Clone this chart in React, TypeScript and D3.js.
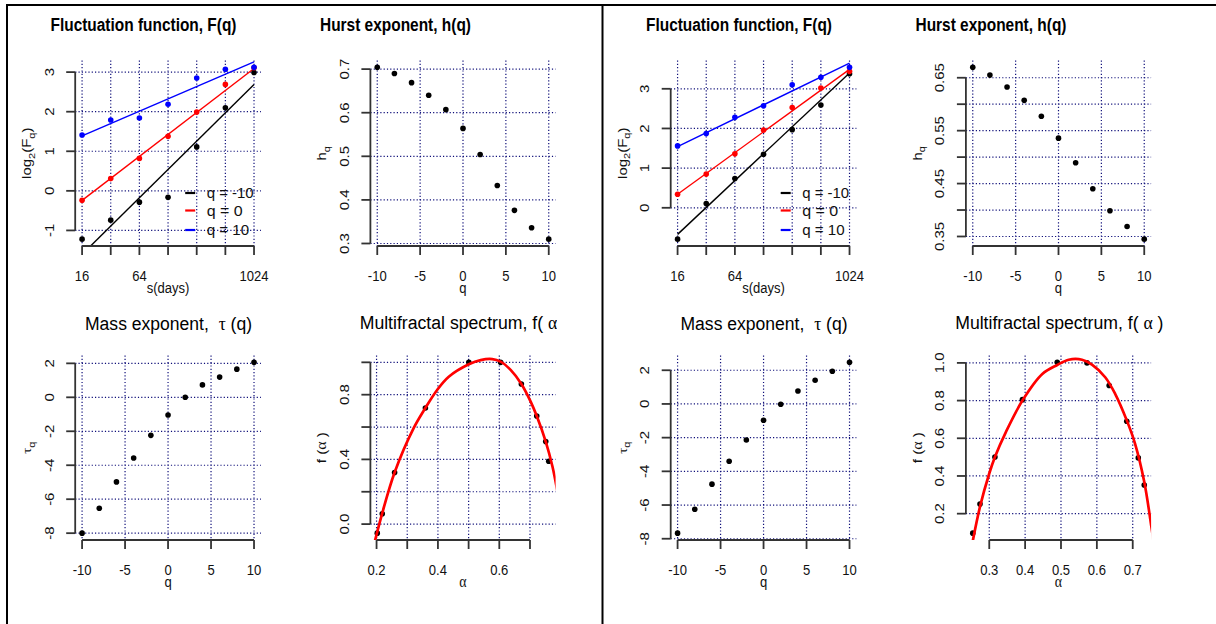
import React from "react";
import * as d3 from "d3";

const W = 1216;
const H = 624;
const FONT = "'Liberation Sans', Arial, Helvetica, sans-serif";
const GREEK = "'Liberation Serif', 'DejaVu Serif', serif";
const SX = 0.87;
const AXIS = "#333333";
const GRID = "#10107a";

// ---------------- data ----------------
const sizes = [16, 32, 64, 128, 256, 512, 1024];
const qs = [-10, -8, -6, -4, -2, 0, 2, 4, 6, 8, 10];
const legendLabels = ["q = -10", "q = 0", "q = 10"];
const seriesColors = ["#000000", "#ff0000", "#0000ff"];

// left figure
const leftLogFqm10 = [-1.22, -0.74, -0.285, -0.16, 1.11, 2.1, 2.99];
const leftLogFq0 = [-0.24, 0.31, 0.82, 1.38, 1.99, 2.69, 3.11];
const leftLogFq10 = [1.41, 1.79, 1.84, 2.19, 2.85, 3.07, 3.12];
const leftFitqm10 = [-1.606, 2.69];
const leftFitq0 = [-0.24, 3.09];
const leftFitq10 = [1.39, 3.26];
const leftHq = [0.704, 0.69, 0.669, 0.64, 0.607, 0.564, 0.504, 0.433, 0.376, 0.336, 0.31];
const leftTauq = [-8.0, -6.53, -4.98, -3.57, -2.24, -1.04, 0.0, 0.73, 1.19, 1.66, 2.06];
const leftAlpha = [0.2023, 0.2186, 0.2588, 0.3592, 0.5007, 0.6042, 0.6719, 0.722, 0.7513, 0.7611];
const leftFalpha = [-0.056, 0.064, 0.319, 0.718, 1.0, 1.0, 0.866, 0.668, 0.51, 0.389];
const leftCurveAlpha = [0.19, 0.2186, 0.2588, 0.3209, 0.3592, 0.3974, 0.4353, 0.5007, 0.5392, 0.5771, 0.6042, 0.6369, 0.6719, 0.7022, 0.722, 0.7513, 0.7732, 0.7895, 0.795];
const leftCurveF = [-0.14, 0.068, 0.319, 0.593, 0.718, 0.829, 0.911, 0.988, 1.014, 1.02, 1.004, 0.953, 0.866, 0.757, 0.668, 0.51, 0.356, 0.2, 0.14];

// right figure
const rightLogFqm10 = [-0.79, 0.11, 0.74, 1.35, 1.97, 2.59, 3.38];
const rightLogFq0 = [0.34, 0.85, 1.36, 1.96, 2.53, 3.02, 3.44];
const rightLogFq10 = [1.56, 1.87, 2.28, 2.57, 3.1, 3.29, 3.54];
const rightFitqm10 = [-0.67, 3.4];
const rightFitq0 = [0.34, 3.49];
const rightFitq10 = [1.54, 3.65];
const rightHq = [0.6696, 0.655, 0.6325, 0.6073, 0.5772, 0.5358, 0.4894, 0.4403, 0.3987, 0.369, 0.345];
const rightTauq = [-7.67, -6.25, -4.76, -3.4, -2.14, -0.97, -0.02, 0.77, 1.41, 1.94, 2.47];
const rightAlpha = [0.254, 0.2742, 0.3158, 0.3925, 0.4895, 0.5726, 0.6343, 0.6834, 0.7155, 0.7321];
const rightFalpha = [0.0965, 0.251, 0.501, 0.805, 1.003, 1.0, 0.88, 0.69, 0.496, 0.352];
const rightCurveAlpha = [0.25, 0.2742, 0.3, 0.3158, 0.3463, 0.3925, 0.4479, 0.4895, 0.5216, 0.5587, 0.5864, 0.6233, 0.651, 0.6834, 0.7064, 0.7321, 0.7526, 0.758];
const rightCurveF = [0.015, 0.237, 0.413, 0.501, 0.633, 0.8, 0.941, 0.989, 1.017, 1.017, 0.991, 0.924, 0.836, 0.695, 0.572, 0.369, 0.123, 0.05];

// ticks
const sTicks = [16, 32, 64, 128, 256, 512, 1024];
const sTickLabels = ["16", "", "64", "", "", "", "1024"];
const qTicks = [-10, -5, 0, 5, 10];
const qTickLabels = ["-10", "-5", "0", "5", "10"];
const leftFluctYTicks = [-1, 0, 1, 2, 3];
const leftFluctYLabels = ["-1", "0", "1", "2", "3"];
const rightFluctYTicks = [0, 1, 2, 3];
const rightFluctYLabels = ["0", "1", "2", "3"];
const leftHurstYTicks = [0.3, 0.4, 0.5, 0.6, 0.7];
const leftHurstYLabels = ["0.3", "0.4", "0.5", "0.6", "0.7"];
const rightHurstYTicks = [0.35, 0.4, 0.45, 0.5, 0.55, 0.6, 0.65];
const rightHurstYLabels = ["0.35", "", "0.45", "", "0.55", "", "0.65"];
const tauYTicks = [-8, -6, -4, -2, 0, 2];
const tauYLabels = ["-8", "-6", "-4", "-2", "0", "2"];
const leftSpecXTicks = [0.2, 0.3, 0.4, 0.5, 0.6, 0.7];
const leftSpecXLabels = ["0.2", "", "0.4", "", "0.6", ""];
const leftSpecYTicks = [0, 0.2, 0.4, 0.6, 0.8, 1.0];
const leftSpecYLabels = ["0.0", "", "0.4", "", "0.8", ""];
const rightSpecXTicks = [0.3, 0.4, 0.5, 0.6, 0.7];
const rightSpecXLabels = ["0.3", "0.4", "0.5", "0.6", "0.7"];
const rightSpecYTicks = [0.2, 0.4, 0.6, 0.8, 1.0];
const rightSpecYLabels = ["0.2", "0.4", "0.6", "0.8", "1.0"];

// ---------------- layout ----------------
const COLS = [
  [75.2, 260.9],
  [370.4, 555.6],
];
const ROWS = [
  [60.5, 246],
  [355.5, 540],
];
const FIG_OFFSETS = [0, 595.5];

type Box = { l: number; r: number; t: number; b: number };
function getBox(fig: number, col: number, row: number): Box {
  const ox = FIG_OFFSETS[fig];
  return { l: ox + COLS[col][0], r: ox + COLS[col][1], t: ROWS[row][0], b: ROWS[row][1] };
}
function ext(vals: number[]): [number, number] {
  const a = d3.min(vals) as number;
  const b = d3.max(vals) as number;
  const d = (b - a) * 0.04;
  return [a - d, b + d];
}

function Grid({ bx, x, y, xTicks, yTicks }: any) {
  return (
    <g stroke={GRID} strokeWidth={1.2} strokeDasharray="1.2 2.1" fill="none">
      {xTicks.map((t: number, i: number) => (
        <line key={"gx" + i} x1={x(t)} x2={x(t)} y1={bx.t} y2={bx.b} />
      ))}
      {yTicks.map((t: number, i: number) => (
        <line key={"gy" + i} x1={bx.l} x2={bx.r} y1={y(t)} y2={y(t)} />
      ))}
    </g>
  );
}

function Axes({ bx, x, y, xTicks, xLabels, yTicks, yLabels }: any) {
  const x0 = x(xTicks[0]);
  const x1 = x(xTicks[xTicks.length - 1]);
  const y0 = y(yTicks[0]);
  const y1 = y(yTicks[yTicks.length - 1]);
  return (
    <g>
      <line x1={x0} x2={x1} y1={bx.b} y2={bx.b} stroke={AXIS} strokeWidth={1.8} />
      <line x1={bx.l} x2={bx.l} y1={y0} y2={y1} stroke={AXIS} strokeWidth={1.8} />
      {xTicks.map((t: number, i: number) => (
        <g key={"xt" + i}>
          <line x1={x(t)} x2={x(t)} y1={bx.b} y2={bx.b + 9} stroke={AXIS} strokeWidth={1.8} />
          {xLabels[i] ? (
            <text
              transform={`translate(${x(t)},${bx.b + 34.5}) scale(${SX},1)`}
              textAnchor="middle"
              fontSize={15}
              fill="#111"
            >
              {xLabels[i]}
            </text>
          ) : null}
        </g>
      ))}
      {yTicks.map((t: number, i: number) => (
        <g key={"yt" + i}>
          <line x1={bx.l - 9} x2={bx.l} y1={y(t)} y2={y(t)} stroke={AXIS} strokeWidth={1.8} />
          {yLabels[i] ? (
            <text
              transform={`translate(${bx.l - 21.5},${y(t)}) scale(${SX},1) rotate(-90)`}
              textAnchor="middle"
              fontSize={15}
              fill="#111"
            >
              {yLabels[i]}
            </text>
          ) : null}
        </g>
      ))}
    </g>
  );
}

function XTitle({ bx, children }: any) {
  return (
    <text
      transform={`translate(${(bx.l + bx.r) / 2},${bx.b + 47}) scale(${SX},1)`}
      textAnchor="middle"
      fontSize={15}
      fill="#111"
    >
      {children}
    </text>
  );
}
function YTitle({ bx, children }: any) {
  return (
    <text
      transform={`translate(${bx.l - 44},${(bx.t + bx.b) / 2}) scale(${SX},1) rotate(-90)`}
      textAnchor="middle"
      fontSize={15}
      fill="#111"
    >
      {children}
    </text>
  );
}
function Title({ x, y, w, bold, children }: any) {
  return (
    <text
      x={x}
      y={y}
      fontSize={bold ? 17.5 : 18}
      fontWeight={bold ? "bold" : "normal"}
      textLength={w}
      lengthAdjust="spacingAndGlyphs"
      style={{ whiteSpace: "pre" }}
      fill="#000"
    >
      {children}
    </text>
  );
}

function ClipRect({ id, bx }: any) {
  return (
    <clipPath id={id}>
      <rect x={bx.l} y={bx.t} width={bx.r - bx.l} height={bx.b - bx.t} />
    </clipPath>
  );
}

function Dots({ xs, ys, x, y, color }: any) {
  return (
    <g fill={color}>
      {xs.map((v: number, i: number) => (
        <circle key={i} cx={x(v)} cy={y(ys[i])} r={2.8} />
      ))}
    </g>
  );
}

function FluctPanel({ fig, series, fits, yTicks, yLabels }: any) {
  const bx = getBox(fig, 0, 0);
  const id = "clipF" + fig;
  const x = d3
    .scaleLog()
    .base(2)
    .domain(ext(sizes.map(Math.log2)).map((v) => Math.pow(2, v)))
    .range([bx.l, bx.r]);
  const y = d3
    .scaleLinear()
    .domain(ext(series.flat()))
    .range([bx.b, bx.t]);
  const line = d3
    .line<[number, number]>()
    .x((d) => x(d[0]))
    .y((d) => y(d[1]));
  const legX = bx.l + 110;
  const legRows = [bx.t + 132.5, bx.t + 150, bx.t + 169.5];
  const legW = [47, 36, 42.5];
  return (
    <g>
      <ClipRect id={id} bx={bx} />
      <Grid bx={bx} x={x} y={y} xTicks={sTicks} yTicks={yTicks} />
      <g clipPath={`url(#${id})`}>
        {fits.map((f: number[], i: number) => (
          <path
            key={i}
            d={line([
              [sizes[0], f[0]],
              [sizes[sizes.length - 1], f[1]],
            ]) as string}
            stroke={seriesColors[i]}
            strokeWidth={1.4}
            fill="none"
          />
        ))}
      </g>
      {series.map((s: number[], i: number) => (
        <Dots key={i} xs={sizes} ys={s} x={x} y={y} color={seriesColors[i]} />
      ))}
      {legendLabels.map((lab, i) => (
        <g key={lab}>
          <line x1={legX} x2={legX + 10} y1={legRows[i]} y2={legRows[i]} stroke={seriesColors[i]} strokeWidth={2.2} />
          <text
            x={legX + 21.5}
            y={legRows[i] + 5.2}
            fontSize={15}
            textLength={legW[i]}
            lengthAdjust="spacingAndGlyphs"
            fill="#111"
          >
            {lab}
          </text>
        </g>
      ))}
      <Axes bx={bx} x={x} y={y} xTicks={sTicks} xLabels={sTickLabels} yTicks={yTicks} yLabels={yLabels} />
      <XTitle bx={bx}>s(days)</XTitle>
      <YTitle bx={bx}>
        log<tspan dy={4} fontSize={11}>2</tspan>
        <tspan dy={-4}>(F</tspan>
        <tspan dy={4} fontSize={11}>q</tspan>
        <tspan dy={-4}>)</tspan>
      </YTitle>
    </g>
  );
}

function QPanel({ fig, row, vals, yTicks, yLabels, yTitle }: any) {
  const bx = getBox(fig, row === 0 ? 1 : 0, row);
  const x = d3.scaleLinear().domain(ext(qs)).range([bx.l, bx.r]);
  const y = d3.scaleLinear().domain(ext(vals)).range([bx.b, bx.t]);
  return (
    <g>
      <Grid bx={bx} x={x} y={y} xTicks={qTicks} yTicks={yTicks} />
      <Dots xs={qs} ys={vals} x={x} y={y} color="#000" />
      <Axes bx={bx} x={x} y={y} xTicks={qTicks} xLabels={qTickLabels} yTicks={yTicks} yLabels={yLabels} />
      <XTitle bx={bx}>q</XTitle>
      <YTitle bx={bx}>{yTitle}</YTitle>
    </g>
  );
}

function SpecPanel({ fig, alpha, falpha, cAlpha, cF, xTicks, xLabels, yTicks, yLabels }: any) {
  const bx = getBox(fig, 1, 1);
  const id = "clipS" + fig;
  const x = d3.scaleLinear().domain(ext(alpha)).range([bx.l, bx.r]);
  const y = d3.scaleLinear().domain(ext(falpha)).range([bx.b, bx.t]);
  const curve = d3
    .line<number>()
    .x((d) => x(d))
    .y((_d, i) => y(cF[i]))
    .curve(d3.curveCatmullRom.alpha(0.5));
  return (
    <g>
      <ClipRect id={id} bx={bx} />
      <Grid bx={bx} x={x} y={y} xTicks={xTicks} yTicks={yTicks} />
      <Dots xs={alpha} ys={falpha} x={x} y={y} color="#000" />
      <g clipPath={`url(#${id})`}>
        <path d={curve(cAlpha) as string} stroke="#ff0000" strokeWidth={2.7} fill="none" strokeLinejoin="round" />
      </g>
      <Axes bx={bx} x={x} y={y} xTicks={xTicks} xLabels={xLabels} yTicks={yTicks} yLabels={yLabels} />
      <XTitle bx={bx}>
        <tspan fontFamily={GREEK} fontSize={16}>α</tspan>
      </XTitle>
      <YTitle bx={bx}>
        f (<tspan fontFamily={GREEK} fontSize={16}>α</tspan> )
      </YTitle>
    </g>
  );
}

function Figure({ fig }: { fig: number }) {
  const ox = FIG_OFFSETS[fig];
  const L = fig === 0;
  return (
    <g>
      <Title x={ox + 50.5} y={31} w={186} bold>
        Fluctuation function, F(q)
      </Title>
      <Title x={ox + 320} y={31} w={151} bold>
        Hurst exponent, h(q)
      </Title>
      <Title x={ox + 85} y={330} w={167}>
        Mass exponent,{"  "}
        <tspan fontFamily={GREEK}>τ</tspan> (q)
      </Title>
      <Title x={ox + 359.7} y={329} w={208.3}>
        Multifractal spectrum, f( <tspan fontFamily={GREEK}>α</tspan> )
      </Title>
      <FluctPanel
        fig={fig}
        series={L ? [leftLogFqm10, leftLogFq0, leftLogFq10] : [rightLogFqm10, rightLogFq0, rightLogFq10]}
        fits={L ? [leftFitqm10, leftFitq0, leftFitq10] : [rightFitqm10, rightFitq0, rightFitq10]}
        yTicks={L ? leftFluctYTicks : rightFluctYTicks}
        yLabels={L ? leftFluctYLabels : rightFluctYLabels}
      />
      <QPanel
        fig={fig}
        row={0}
        vals={L ? leftHq : rightHq}
        yTicks={L ? leftHurstYTicks : rightHurstYTicks}
        yLabels={L ? leftHurstYLabels : rightHurstYLabels}
        yTitle={
          <>
            h<tspan dy={4} fontSize={11}>q</tspan>
          </>
        }
      />
      <QPanel
        fig={fig}
        row={1}
        vals={L ? leftTauq : rightTauq}
        yTicks={tauYTicks}
        yLabels={tauYLabels}
        yTitle={
          <>
            <tspan fontFamily={GREEK}>τ</tspan>
            <tspan dy={4} fontSize={11}>q</tspan>
          </>
        }
      />
      <SpecPanel
        fig={fig}
        alpha={L ? leftAlpha : rightAlpha}
        falpha={L ? leftFalpha : rightFalpha}
        cAlpha={L ? leftCurveAlpha : rightCurveAlpha}
        cF={L ? leftCurveF : rightCurveF}
        xTicks={L ? leftSpecXTicks : rightSpecXTicks}
        xLabels={L ? leftSpecXLabels : rightSpecXLabels}
        yTicks={L ? leftSpecYTicks : rightSpecYTicks}
        yLabels={L ? leftSpecYLabels : rightSpecYLabels}
      />
    </g>
  );
}

export default function App() {
  return (
    <svg
      width={W}
      height={H}
      viewBox={`0 0 ${W} ${H}`}
      style={{ position: "absolute", left: 0, top: 0, background: "#fff" }}
      fontFamily={FONT}
    >
      <rect x={0} y={0} width={W} height={H} fill="#fff" />
      <defs>
        <clipPath id="figLeft">
          <rect x={0} y={0} width={557} height={H} />
        </clipPath>
      </defs>
      <g clipPath="url(#figLeft)">
        <Figure fig={0} />
      </g>
      <Figure fig={1} />
      {/* table borders */}
      <line x1={6} x2={W} y1={5} y2={5} stroke="#000" strokeWidth={2} />
      <line x1={7} x2={7} y1={4} y2={H} stroke="#000" strokeWidth={2} />
      <line x1={602.5} x2={602.5} y1={4} y2={H} stroke="#000" strokeWidth={2} />
    </svg>
  );
}
